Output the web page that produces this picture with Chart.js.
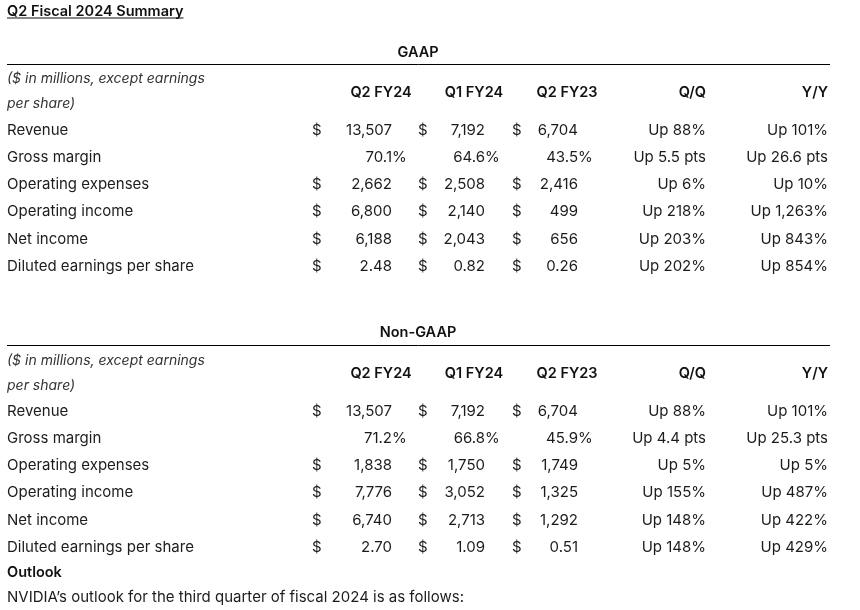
<!DOCTYPE html>
<html>
<head>
<meta charset="utf-8">
<script src="https://cdn.jsdelivr.net/npm/chart.js@4.4.0/dist/chart.umd.min.js"></script>
<style>
html, body { margin: 0; padding: 0; background: #fff; }
#wrap { width: 860px; height: 610px; position: relative; }
</style>
</head>
<body>
<div id="wrap"><canvas id="summary"></canvas></div>
<script>
// table content
const title = 'Q2 Fiscal 2024 Summary';
const sectionNames = ['GAAP', 'Non-GAAP'];
const unitNote = ['($ in millions, except earnings', 'per share)'];
const periods = ['Q2 FY24', 'Q1 FY24', 'Q2 FY23'];
const changeHeads = ['Q/Q', 'Y/Y'];
const rowLabels = ['Revenue', 'Gross margin', 'Operating expenses', 'Operating income', 'Net income', 'Diluted earnings per share'];
const rowKinds = ['usd', 'pct', 'usd', 'usd', 'usd', 'eps'];

const gaapQ2FY24 = [13507, 70.1, 2662, 6800, 6188, 2.48];
const gaapQ1FY24 = [7192, 64.6, 2508, 2140, 2043, 0.82];
const gaapQ2FY23 = [6704, 43.5, 2416, 499, 656, 0.26];
const gaapQQ = ['Up 88%', 'Up 5.5 pts', 'Up 6%', 'Up 218%', 'Up 203%', 'Up 202%'];
const gaapYY = ['Up 101%', 'Up 26.6 pts', 'Up 10%', 'Up 1,263%', 'Up 843%', 'Up 854%'];

const nonGaapQ2FY24 = [13507, 71.2, 1838, 7776, 6740, 2.70];
const nonGaapQ1FY24 = [7192, 66.8, 1750, 3052, 2713, 1.09];
const nonGaapQ2FY23 = [6704, 45.9, 1749, 1325, 1292, 0.51];
const nonGaapQQ = ['Up 88%', 'Up 4.4 pts', 'Up 5%', 'Up 155%', 'Up 148%', 'Up 148%'];
const nonGaapYY = ['Up 101%', 'Up 25.3 pts', 'Up 5%', 'Up 487%', 'Up 422%', 'Up 429%'];

const outlookHead = 'Outlook';
const outlookText = 'NVIDIA\u2019s outlook for the third quarter of fiscal 2024 is as follows:';

// layout (scale units = pixels of the 860x610 frame)
const layout = {
  labelX: 7,
  dollarX: [312, 418, 512],
  valueRight: [392, 485, 578],
  headCenter: [381, 474, 567],
  changeRight: [706, 828],
  sectionCenter: 418,
  ruleFrom: 7, ruleTo: 830,
  rowGap: 27.3,
  sections: [
    { head: 51, rule: 64.5, note: [77, 102], periods: 91, firstRow: 129 },
    { head: 331, rule: 345.5, note: [359, 384], periods: 372, firstRow: 410 }
  ],
  titleY: 10, outlookY: 571, outlookTextY: 596
};

const FONT = 'Inter, "Noto Sans", sans-serif';
const regular = '15px ' + FONT;
const bold = '600 14.5px ' + FONT;
const italic = 'italic 14px ' + FONT;
const textColor = '#1c1c1c';
const headColor = '#111';

function fmt(v, kind) {
  const d = kind === 'usd' ? 0 : (kind === 'pct' ? 1 : 2);
  return v.toLocaleString('en-US', { minimumFractionDigits: d, maximumFractionDigits: d });
}

function textSet(points, texts, opts) {
  return Object.assign({
    data: points, texts: texts, pointRadius: 0, pointHoverRadius: 0,
    font: regular, color: textColor, align: 'left'
  }, opts || {});
}

const datasets = [];
datasets.push(textSet([{ x: layout.labelX, y: layout.titleY }], [title], { font: bold, color: headColor, underline: true }));

const sections = [
  { cols: [gaapQ2FY24, gaapQ1FY24, gaapQ2FY23], changes: [gaapQQ, gaapYY] },
  { cols: [nonGaapQ2FY24, nonGaapQ1FY24, nonGaapQ2FY23], changes: [nonGaapQQ, nonGaapYY] }
];

sections.forEach((sec, s) => {
  const L = layout.sections[s];
  const rowY = rowLabels.map((_, r) => L.firstRow + r * layout.rowGap);

  // section name and rule
  datasets.push(textSet([{ x: layout.sectionCenter, y: L.head }], [sectionNames[s]], { font: bold, color: headColor, align: 'center' }));
  datasets.push({
    data: [{ x: layout.ruleFrom, y: L.rule }, { x: layout.ruleTo, y: L.rule }],
    showLine: true, borderColor: '#000', borderWidth: 1, pointRadius: 0, pointHoverRadius: 0
  });

  // header row
  datasets.push(textSet(L.note.map(y => ({ x: layout.labelX, y: y })), unitNote, { font: italic, color: '#333' }));
  datasets.push(textSet(layout.headCenter.map(x => ({ x: x, y: L.periods })), periods, { font: bold, color: headColor, align: 'center' }));
  datasets.push(textSet(layout.changeRight.map(x => ({ x: x, y: L.periods })), changeHeads, { font: bold, color: headColor, align: 'right' }));

  // row labels
  datasets.push(textSet(rowY.map(y => ({ x: layout.labelX, y: y })), rowLabels));

  // period columns
  sec.cols.forEach((vals, c) => {
    const dollarRows = rowKinds.map((k, r) => k === 'pct' ? null : r).filter(r => r !== null);
    datasets.push(textSet(dollarRows.map(r => ({ x: layout.dollarX[c], y: rowY[r] })), dollarRows.map(() => '$')));
    datasets.push(textSet(
      vals.map((v, r) => ({ x: layout.valueRight[c], y: rowY[r] })),
      vals.map((v, r) => fmt(v, rowKinds[r])),
      { align: 'right', suffix: rowKinds.map(k => k === 'pct' ? '%' : '') }
    ));
  });

  // change columns
  sec.changes.forEach((vals, c) => {
    datasets.push(textSet(vals.map((v, r) => ({ x: layout.changeRight[c], y: rowY[r] })), vals, { align: 'right' }));
  });
});

datasets.push(textSet([{ x: layout.labelX, y: layout.outlookY }], [outlookHead], { font: bold, color: headColor }));
datasets.push(textSet([{ x: layout.labelX, y: layout.outlookTextY }], [outlookText]));

// draws the cell texts at the points placed by the scales
const tableText = {
  id: 'tableText',
  afterDatasetsDraw(chart) {
    const ctx = chart.ctx;
    chart.data.datasets.forEach((ds, i) => {
      if (!ds.texts) return;
      const meta = chart.getDatasetMeta(i);
      ctx.save();
      ctx.font = ds.font;
      ctx.fillStyle = ds.color;
      ctx.textBaseline = 'alphabetic';
      meta.data.forEach((pt, j) => {
        const base = pt.y + 5.5;
        ctx.textAlign = ds.align;
        ctx.fillText(ds.texts[j], pt.x, base);
        if (ds.suffix && ds.suffix[j]) {
          ctx.textAlign = 'left';
          ctx.fillText(ds.suffix[j], pt.x, base);
        }
        if (ds.underline) {
          const w = ctx.measureText(ds.texts[j]).width;
          ctx.fillRect(pt.x, base + 2, w, 1);
        }
      });
      ctx.restore();
    });
  }
};

new Chart(document.getElementById('summary'), {
  type: 'scatter',
  data: { datasets: datasets },
  options: {
    responsive: true,
    maintainAspectRatio: false,
    animation: false,
    layout: { padding: 0 },
    plugins: { legend: { display: false }, tooltip: { enabled: false } },
    events: [],
    scales: {
      x: { type: 'linear', min: 0, max: 860, display: false },
      y: { type: 'linear', min: 0, max: 610, reverse: true, display: false }
    }
  },
  plugins: [tableText]
});
</script>
</body>
</html>
